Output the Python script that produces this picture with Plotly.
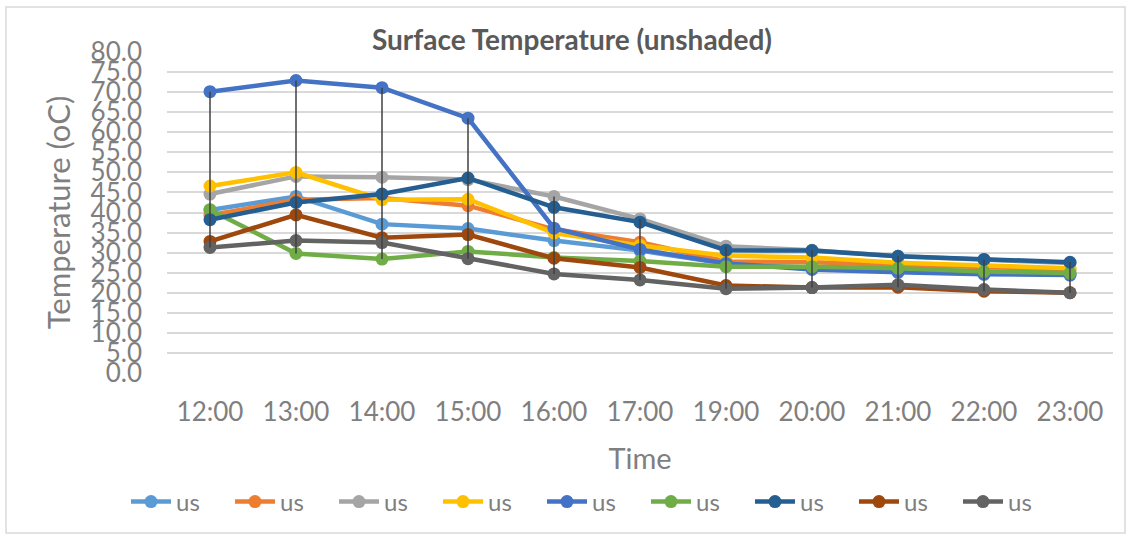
import plotly.graph_objects as go

times = ["12:00", "13:00", "14:00", "15:00", "16:00", "17:00",
         "19:00", "20:00", "21:00", "22:00", "23:00"]

series_names = ["us"] * 9
s1 = [40.6, 44.0, 37.1, 36.0, 33.0, 30.5, 27.2, 26.2, 25.6, 25.0, 24.6]
s2 = [39.3, 43.2, 43.6, 41.7, 35.8, 32.6, 27.8, 27.6, 27.0, 26.4, 25.8]
s3 = [44.6, 49.0, 48.8, 48.2, 44.0, 38.4, 31.6, 30.6, 29.1, 28.2, 27.4]
s4 = [46.6, 50.0, 43.2, 43.3, 34.9, 31.8, 29.2, 28.8, 27.5, 26.8, 26.1]
s5 = [70.1, 72.9, 71.1, 63.5, 36.1, 30.8, 27.3, 25.8, 25.1, 24.6, 24.4]
s6 = [40.7, 29.8, 28.4, 30.3, 28.8, 27.9, 26.5, 26.5, 26.1, 25.3, 24.9]
s7 = [38.2, 42.5, 44.6, 48.6, 41.3, 37.6, 30.6, 30.5, 29.1, 28.3, 27.6]
s8 = [32.8, 39.4, 33.7, 34.5, 28.6, 26.3, 21.8, 21.3, 21.4, 20.4, 20.0]
s9 = [31.3, 33.0, 32.5, 28.5, 24.7, 23.2, 21.0, 21.3, 22.0, 20.8, 20.0]
all_series = [s1, s2, s3, s4, s5, s6, s7, s8, s9]

colors = ["#5B9BD5", "#ED7D31", "#A5A5A5", "#FFC000", "#4472C4",
          "#70AD47", "#255E91", "#9E480E", "#636363"]

FONT = "Lato"
TXT = "#7F7F7F"

fig = go.Figure()
for name, vals, col in zip(series_names, all_series, colors):
    fig.add_trace(go.Scatter(
        x=times, y=vals, name=name, mode="lines+markers",
        line=dict(color=col, width=4.5),
        marker=dict(color=col, size=13),
    ))

# high-low lines (max to min across series at each category)
hx, hy = [], []
for i, t in enumerate(times):
    col_vals = [s[i] for s in all_series]
    hx += [t, t, None]
    hy += [max(col_vals), min(col_vals), None]
fig.add_trace(go.Scatter(x=hx, y=hy, mode="lines", showlegend=False,
                         line=dict(color="#404040", width=1.5),
                         hoverinfo="skip"))

L, R, T, B = 167, 17, 52, 166
W, H = 1130, 539
pw, ph = W - L - R, H - T - B

def px_x(x):
    return (x - L) / pw

def px_y(y):
    return (H - B - y) / ph

fig.update_layout(
    width=W, height=H,
    margin=dict(l=L, r=R, t=T, b=B),
    paper_bgcolor="white", plot_bgcolor="white",
    font=dict(family=FONT, color=TXT),
    title=dict(text="<b>Surface Temperature (unshaded)</b>",
               x=572 / W, xref="container", xanchor="center",
               y=1 - 40 / H, yref="container", yanchor="middle",
               font=dict(family=FONT, size=28, color="#595959")),
    xaxis=dict(
        type="category", range=[-0.5, 10.5],
        showgrid=False, zeroline=False, showline=False,
        tickfont=dict(family=FONT, size=26, color=TXT),
        ticklabelstandoff=21,
        title=dict(text="Time", font=dict(family=FONT, size=29, color=TXT),
                   standoff=22),
    ),
    yaxis=dict(
        range=[0, 80], dtick=5, tickformat=".1f",
        showgrid=True, gridcolor="#D9D9D9", gridwidth=1.5,
        zeroline=False, showline=False,
        tickfont=dict(family=FONT, size=26, color=TXT),
        ticklabelstandoff=24,
        title=dict(text="Temperature (oC)",
                   font=dict(family=FONT, size=31, color=TXT), standoff=10),
    ),
    legend=dict(orientation="h", x=px_x(594), xanchor="center",
                y=px_y(502), yanchor="middle",
                font=dict(family=FONT, size=24, color=TXT),
                itemwidth=40, entrywidth=49, entrywidthmode="pixels",
                tracegroupgap=0),
    shapes=[dict(type="rect", xref="paper", yref="paper",
                 x0=px_x(6), x1=px_x(1125), y0=px_y(533), y1=px_y(7),
                 line=dict(color="#D9D9D9", width=1.5), layer="below")],
    showlegend=True,
)

fig.write_html("out.html")
